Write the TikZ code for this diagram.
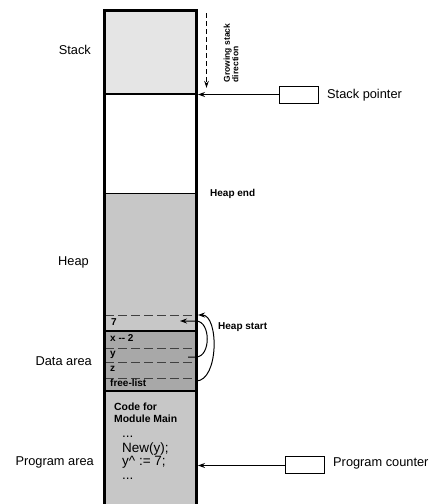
\documentclass[tikz,border=0pt]{standalone}
\usepackage{fontspec}
\setmainfont{Liberation Sans}
\usetikzlibrary{arrows.meta}
\definecolor{stackc}{gray}{0.90}
\definecolor{heapc}{gray}{0.78}
\definecolor{datac}{gray}{0.66}
\begin{document}
\begin{tikzpicture}[x=1pt,y=-1pt,
  lbl/.style={font=\fontsize{12.8}{15}\selectfont, inner sep=0pt},
  sml/.style={font=\bfseries\fontsize{10}{11}\selectfont, inner sep=0pt},
  codetxt/.style={font=\fontsize{13.5}{15}\selectfont, inner sep=0pt, anchor=base west},
  border/.style={line width=3pt, line join=miter},
  sep/.style={line width=1.8pt},
  dsep/.style={line width=0.9pt, dash pattern=on 9pt off 4pt, draw=black!75},
  ptr/.style={line width=1pt, -{Stealth[length=7pt,width=5pt]}},
  dptr/.style={line width=0.9pt, dash pattern=on 5pt off 3pt, -{Stealth[length=7pt,width=4.5pt]}},
  regbox/.style={draw, line width=1pt, minimum width=39pt, minimum height=17pt, inner sep=0pt}
]
\useasboundingbox (0,0) rectangle (437,504);
% region fills
\fill[stackc] (104,10) rectangle (196.5,94);
\fill[heapc] (104,193.5) rectangle (196.5,331);
\fill[datac] (104,331) rectangle (196.5,391);
\fill[heapc] (104,391) rectangle (196.5,504);
% separators
\draw[sep] (104,94) -- (196.5,94);
\draw[sep] (104,193.5) -- (196.5,193.5);
\draw[sep] (104,331) -- (196.5,331);
\draw[sep] (104,391) -- (196.5,391);
\draw[dsep] (105,315) -- (196,315);
\draw[dsep] (105,348) -- (196,348);
\draw[dsep] (105,362) -- (196,362);
\draw[dsep] (105,378) -- (196,378);
% column border
\draw[border] (104,504) -- (104,10) -- (196.5,10) -- (196.5,504);
% left labels
\node[lbl, anchor=base east] (lstack) at (91,54.6) {Stack};
\node[lbl, anchor=base east] (lheap) at (89,265.6) {Heap};
\node[lbl, anchor=base east] (ldata) at (92,365.6) {Data area};
\node[lbl, anchor=base east] (lprog) at (94,465.6) {Program area};
% data cells
\node[sml, anchor=base west] (c7) at (111,325.6) {7};
\node[sml, anchor=base west] (cx) at (110,341) {x -{}- 2};
\node[sml, anchor=base west] (cy) at (110,356) {y};
\node[sml, anchor=base west] (cz) at (110,371.5) {z};
\node[sml, anchor=base west] (cfl) at (110,386.6) {free-list};
% program code
\node[sml, anchor=base west, font=\bfseries\fontsize{10.4}{11}\selectfont] (code1) at (114,410) {Code for};
\node[sml, anchor=base west, font=\bfseries\fontsize{10.4}{11}\selectfont] (code2) at (114,422.5) {Module Main};
\node[codetxt] (code3) at (122,437) {...};
\node[codetxt] (code4) at (122,452) {New(y);};
\node[codetxt] (code5) at (122,465) {y\textasciicircum{} := 7;};
\node[codetxt] (code6) at (122,479) {...};
% heap end / start
\node[sml, anchor=base west] (hend) at (210,196.6) {Heap end};
\node[sml, anchor=base west] (hstart) at (218,329.6) {Heap start};
% growing stack
\coordinate (gs1) at (206.5,13);
\coordinate (gs2) at (206.5,88);
\draw[dptr] (gs1) -- (gs2);
\node[rotate=90, anchor=north west, align=left, inner sep=0pt,
  font=\bfseries\fontsize{8.5}{8.5}\selectfont] (gstxt) at (223.5,82.5) {Growing stack\\direction};
% stack pointer
\node[regbox] (spbox) at (298.5,94.5) {};
\node[lbl, anchor=base west] (sptxt) at (327,98.6) {Stack pointer};
\coordinate (sptip) at (198,94.5);
\draw[ptr] (spbox.west) -- (sptip);
% program counter
\node[regbox] (pcbox) at (304.5,464.5) {};
\node[lbl, anchor=base west] (pctxt) at (333,466.6) {Program counter};
\coordinate (pctip) at (198,465.5);
\draw[ptr] (pcbox.west |- pctip) -- (pctip);
% heap start pointers
\coordinate (flp) at (196,381);
\coordinate (hsp) at (198,315);
\draw[ptr] (flp) .. controls (219,381) and (219,315) .. (hsp);
\coordinate (yp) at (188,357);
\coordinate (y1) at (196,357);
\coordinate (y2) at (196,321);
\coordinate (sevp) at (180,321);
\draw[ptr] (yp) -- (y1) .. controls (211,357) and (211,321) .. (y2) -- (sevp);
\end{tikzpicture}
\end{document}
